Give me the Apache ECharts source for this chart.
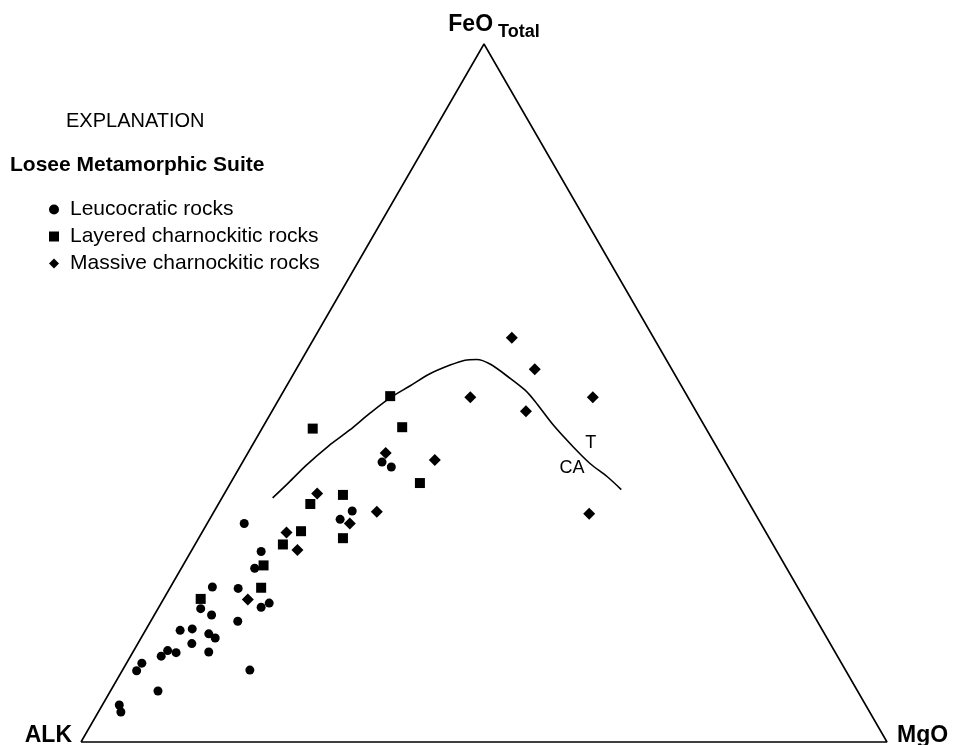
<!DOCTYPE html>
<html>
<head>
<meta charset="utf-8">
<style>
  html, body { margin: 0; padding: 0; background: #fff; }
  #chart { width: 958px; height: 745px; }
</style>
<script src="https://cdn.jsdelivr.net/npm/echarts@6/dist/echarts.min.js"></script>
</head>
<body>
<div id="chart"></div>
<script>
// AFM ternary diagram, compositions in percent: [ALK, FeO total, MgO]
const seriesNames = ['Leucocratic rocks', 'Layered charnockitic rocks', 'Massive charnockitic rocks'];

const leucocratic = [
  [64.1, 31.3, 4.6], [64.0, 27.3, 8.7], [66.0, 24.9, 9.1], [72.6, 22.2, 5.2],
  [69.5, 22.0, 8.5], [75.6, 19.1, 5.3], [74.7, 18.2, 7.1], [71.9, 17.3, 10.8],
  [68.0, 19.3, 12.7], [66.7, 19.9, 13.4], [79.7, 16.0, 4.3], [78.1, 16.2, 5.7],
  [79.2, 14.1, 6.7], [76.4, 15.5, 8.1], [75.9, 14.9, 9.2], [77.7, 12.9, 9.4],
  [82.7, 13.1, 4.2], [81.8, 12.8, 5.4], [83.9, 12.3, 3.8], [86.8, 11.3, 1.9],
  [88.0, 10.2, 1.8], [73.9, 10.3, 15.8], [86.8, 7.3, 5.9], [92.6, 5.3, 2.1],
  [92.9, 4.3, 2.8], [42.6, 40.1, 17.3], [41.8, 39.4, 18.8], [49.8, 33.1, 17.1],
  [51.9, 31.9, 16.2]
];

const layered = [
  [36.9, 49.6, 13.6], [48.8, 44.9, 6.3], [37.6, 45.1, 17.3], [39.4, 37.1, 23.5],
  [49.8, 35.4, 14.8], [54.5, 34.1, 11.4], [57.6, 30.2, 12.2], [60.8, 28.3, 10.9],
  [52.9, 29.2, 17.9], [64.7, 25.3, 10.0], [66.6, 22.1, 11.3], [74.9, 20.5, 4.6]
];

const massive = [
  [17.6, 57.9, 24.5], [17.0, 53.4, 29.6], [27.0, 49.4, 23.6], [21.1, 47.4, 31.5],
  [11.8, 49.4, 38.8], [35.9, 40.4, 23.7], [20.6, 32.7, 46.7], [41.5, 41.4, 17.1],
  [52.9, 35.6, 11.5], [46.8, 33.0, 20.2], [51.0, 31.3, 17.7], [59.5, 30.0, 10.5],
  [59.4, 27.5, 13.1], [69.1, 20.4, 10.5]
];

// Tholeiitic / calc-alkaline dividing line
const boundary = [
  [58.8, 35.0, 6.3], [55.6, 37.2, 7.2], [52.3, 39.6, 8.1], [48.1, 42.4, 9.5],
  [44.3, 44.7, 11.0], [40.6, 47.1, 12.3], [37.0, 49.3, 13.7], [33.7, 51.0, 15.3],
  [30.3, 52.7, 16.9], [27.2, 54.0, 18.8], [25.0, 54.7, 20.3], [23.5, 54.8, 21.7],
  [22.2, 54.2, 23.7], [20.7, 52.1, 27.2], [19.7, 50.4, 29.9], [19.3, 48.9, 31.9],
  [18.7, 45.4, 35.9], [17.8, 42.3, 39.9], [16.9, 39.9, 43.2], [15.7, 38.0, 46.3],
  [14.9, 36.2, 49.0]
];

const fieldNames = ['T', 'CA'];
const fieldAnchors = [[15.3, 42.9, 41.8], [19.4, 39.0, 41.1]];

const apexNames = ['ALK', 'FeO', 'MgO'];
const apexes = [[100, 0, 0], [0, 100, 0], [0, 0, 100]];

const FONT = 'Liberation Sans, Arial, Helvetica, sans-serif';
const H = Math.sqrt(3) / 2;

// ternary [a, f, m] -> cartesian (ALK at origin, MgO at (1,0), FeO at top)
function toXY(c) {
  const s = c[0] + c[1] + c[2];
  const f = c[1] / s, m = c[2] / s;
  return [m + f / 2, f * H];
}

const outline = [apexes[0], apexes[2], apexes[1], apexes[0]].map(toXY);

const apexLabels = {
  ALK: { position: 'left', distance: 9, offset: [0, -6], formatter: 'ALK',
         fontSize: 23, fontWeight: 'bold' },
  // subscript: extra top padding pushes "Total" below the FeO baseline
  FeO: { position: 'top', distance: 6, offset: [10, 3], formatter: '{f|FeO}{t|Total}',
         rich: {
           f: { fontFamily: FONT, fontSize: 23, fontWeight: 'bold', color: '#000' },
           t: { fontFamily: FONT, fontSize: 18, fontWeight: 'bold', color: '#000', padding: [14, 0, 0, 5] }
         } },
  MgO: { position: 'right', distance: 10, offset: [0, -6], formatter: 'MgO',
         fontSize: 23, fontWeight: 'bold' }
};

const solid = { color: '#000', opacity: 1 };

const chart = echarts.init(document.getElementById('chart'), null, { renderer: 'canvas' });

chart.setOption({
  backgroundColor: '#fff',
  animation: false,
  title: [
    { text: 'EXPLANATION', left: 66, top: 111, padding: 0,
      textStyle: { fontFamily: FONT, fontSize: 20, fontWeight: 'normal', color: '#000' } },
    { text: 'Losee Metamorphic Suite', left: 10, top: 155, padding: 0,
      textStyle: { fontFamily: FONT, fontSize: 21, fontWeight: 'bold', color: '#000' } }
  ],
  legend: {
    data: seriesNames,
    orient: 'vertical',
    left: 49,
    top: 199,
    padding: 0,
    itemWidth: 10,
    itemHeight: 10,
    itemGap: 6,
    selectedMode: false,
    itemStyle: { opacity: 1 },
    textStyle: { fontFamily: FONT, fontSize: 21, color: '#000', lineHeight: 21, padding: [0, 0, 0, 6] }
  },
  grid: { left: 81, right: 71, top: 44, bottom: 3 },
  xAxis: { type: 'value', min: 0, max: 1, show: false },
  yAxis: { type: 'value', min: 0, max: H, show: false },
  series: [
    {
      name: 'outline', type: 'line', data: outline, symbol: 'none', clip: false, silent: true,
      lineStyle: { color: '#000', width: 1.6 }, z: 1
    },
    {
      name: 'boundary', type: 'line', data: boundary.map(toXY), symbol: 'none', smooth: 0.3,
      clip: false, silent: true, lineStyle: { color: '#000', width: 1.6 }, z: 1
    },
    {
      name: seriesNames[0], type: 'scatter', symbol: 'circle', symbolSize: 9,
      itemStyle: solid, data: leucocratic.map(toXY), z: 3
    },
    {
      name: seriesNames[1], type: 'scatter', symbol: 'rect', symbolSize: 10,
      itemStyle: solid, data: layered.map(toXY), z: 3
    },
    {
      name: seriesNames[2], type: 'scatter', symbol: 'diamond', symbolSize: 12,
      itemStyle: solid, data: massive.map(toXY), z: 3
    },
    {
      name: 'apexes', type: 'scatter', symbolSize: 0, silent: true, clip: false,
      itemStyle: solid,
      data: apexNames.map((n, i) => {
        const l = apexLabels[n];
        return {
          value: toXY(apexes[i]),
          label: Object.assign({ show: true, fontFamily: FONT, color: '#000' }, l)
        };
      })
    },
    {
      name: 'fields', type: 'scatter', symbolSize: 0, silent: true, itemStyle: solid,
      data: fieldNames.map((n, i) => ({ value: toXY(fieldAnchors[i]), name: n })),
      label: { show: true, position: 'inside', formatter: '{b}', fontFamily: FONT,
               fontSize: 18, color: '#000' }
    }
  ]
});
</script>
</body>
</html>
